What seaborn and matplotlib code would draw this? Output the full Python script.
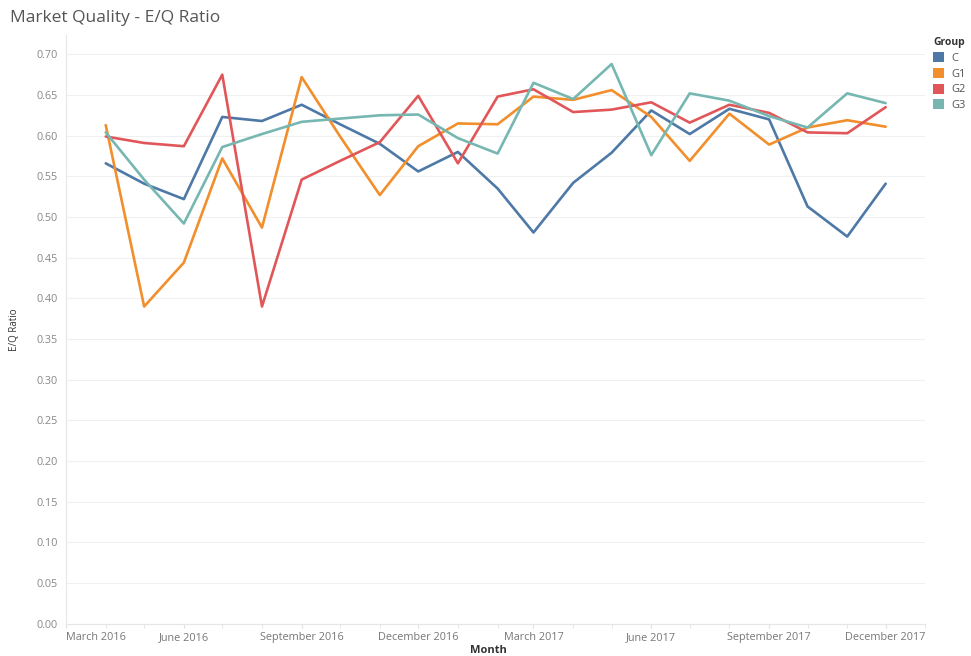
import pandas as pd
import matplotlib
matplotlib.use("Agg")
import matplotlib.pyplot as plt
import matplotlib.dates as mdates
from matplotlib.patches import Patch
import seaborn as sns

# monthly E/Q ratio per group
months = ["2016-04", "2016-05", "2016-06", "2016-07", "2016-08", "2016-09", "2016-10",
          "2016-11", "2016-12", "2017-01", "2017-02", "2017-03", "2017-04", "2017-05",
          "2017-06", "2017-07", "2017-08", "2017-09", "2017-10", "2017-11", "2017-12"]
groups = ["C", "G1", "G2", "G3"]
c_vals = [0.566, 0.541, 0.522, 0.623, 0.618, 0.638, 0.614, 0.590, 0.556, 0.580, 0.535,
          0.481, 0.542, 0.579, 0.631, 0.602, 0.633, 0.620, 0.513, 0.476, 0.541]
g1_vals = [0.613, 0.390, 0.444, 0.572, 0.487, 0.672, 0.599, 0.527, 0.587, 0.615, 0.614,
           0.648, 0.644, 0.656, 0.623, 0.569, 0.627, 0.589, 0.610, 0.619, 0.611]
g2_vals = [0.599, 0.591, 0.587, 0.675, 0.390, 0.546, 0.569, 0.592, 0.649, 0.566, 0.648,
           0.657, 0.629, 0.632, 0.641, 0.616, 0.638, 0.628, 0.604, 0.603, 0.635]
g3_vals = [0.604, 0.546, 0.492, 0.586, 0.602, 0.617, 0.621, 0.625, 0.626, 0.597, 0.578,
           0.665, 0.645, 0.688, 0.576, 0.652, 0.643, 0.624, 0.610, 0.652, 0.640]
colors = ["#4E79A7", "#F28E2B", "#E15759", "#76B7B2"]

df = pd.DataFrame({
    "Month": pd.to_datetime(months * 4),
    "Group": [g for g in groups for _ in months],
    "E/Q Ratio": c_vals + g1_vals + g2_vals + g3_vals,
})

sns.set_style("white")
plt.rcParams["font.family"] = ["Open Sans", "DejaVu Sans"]

fig = plt.figure(figsize=(9.71, 6.56), dpi=100)
ax = fig.add_axes([0.068, 0.049, 0.885, 0.898])

sns.lineplot(data=df, x="Month", y="E/Q Ratio", hue="Group", hue_order=groups,
             palette=colors, linewidth=1.9, legend=False, ax=ax)

ax.set_ylim(0, 0.724)
ax.set_xlim(pd.Timestamp("2016-03-01"), pd.Timestamp("2018-01-01"))
ax.set_yticks([i * 0.05 for i in range(15)])
ax.yaxis.set_major_formatter(plt.FuncFormatter(lambda v, _: f"{v:.2f}"))
ax.grid(axis="y", color="#f0f0f0", linewidth=0.8)
ax.grid(axis="x", visible=False)

ax.xaxis.set_major_locator(mdates.MonthLocator(bymonth=[3, 6, 9, 12]))
ax.xaxis.set_major_formatter(mdates.DateFormatter("%B %Y"))
ax.xaxis.set_minor_locator(mdates.MonthLocator())
ax.tick_params(axis="x", which="both", bottom=True, length=3, color="#e0e0e0",
               labelsize=7.8, labelcolor="#777777", pad=3)
ax.tick_params(axis="y", left=False, labelsize=7.8, labelcolor="#888888", pad=18)
for t in ax.get_yticklabels():
    t.set_horizontalalignment("left")
ax.get_xticklabels()[0].set_horizontalalignment("left")

for side in ["top", "right"]:
    ax.spines[side].set_visible(False)
for side in ["left", "bottom"]:
    ax.spines[side].set_color("#e6e6e6")
    ax.spines[side].set_linewidth(0.8)

ax.set_ylabel("E/Q Ratio", fontsize=7, color="#333333")
ax.yaxis.set_label_coords(-0.054, 0.5)
ax.set_xlabel("")
fig.text(0.503, 0.008, "Month", fontsize=8, color="#333333", ha="center", va="center",
         fontweight="bold")
fig.text(0.010, 0.972, "Market Quality - E/Q Ratio", fontsize=12.5, color="#555555",
         ha="left", va="center")

handles = [Patch(facecolor=c, edgecolor="none", label=g) for g, c in zip(groups, colors)]
leg = fig.legend(handles=handles, title="Group", loc="upper left",
                 bbox_to_anchor=(0.961, 0.943), frameon=False, fontsize=8,
                 title_fontsize=7.5, handlelength=1.0, handleheight=1.0,
                 handletextpad=0.6, labelspacing=0.35, borderaxespad=0, borderpad=0)
leg.get_title().set_color("#333333")
leg.get_title().set_fontweight("bold")
leg._legend_box.align = "left"
for t in leg.get_texts():
    t.set_color("#555555")

fig.savefig("out.png", dpi=100)
